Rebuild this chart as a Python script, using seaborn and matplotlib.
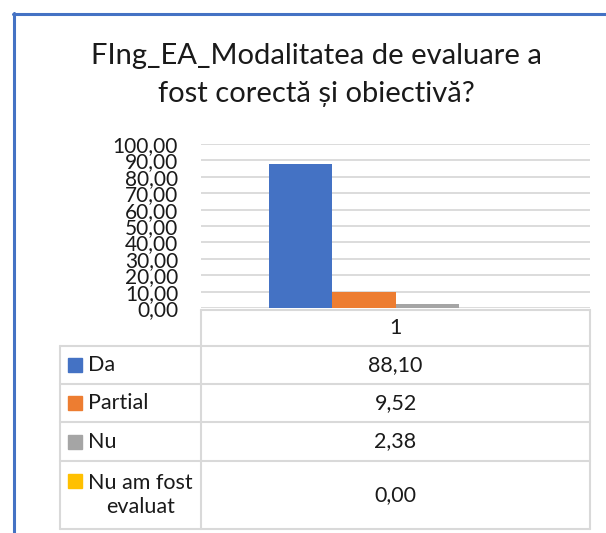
import matplotlib
matplotlib.use("Agg")
import matplotlib.pyplot as plt
from matplotlib.lines import Line2D
from matplotlib.patches import Rectangle
import seaborn as sns
import pandas as pd

# ---- data ----
title_lines = ["FIng_EA_Modalitatea de evaluare a", "fost corectă și obiectivă?"]
category = ["1"]
series = ["Da", "Partial", "Nu", "Nu am fost\nevaluat"]
values = [88.10, 9.52, 2.38, 0.00]
colors = ["#4472C4", "#ED7D31", "#A5A5A5", "#FFC000"]
yticks = [0, 10, 20, 30, 40, 50, 60, 70, 80, 90, 100]

df = pd.DataFrame({"cat": category * len(series), "series": series, "value": values})

W, H = 606, 533
sns.set_theme(style="white")
plt.rcParams["font.family"] = ["Lato", "DejaVu Sans"]
fig = plt.figure(figsize=(W / 100, H / 100), dpi=100)
fig.patch.set_facecolor("white")

def fx(x):
    return x / W
def fy(y):
    return 1 - y / H

TXT = "#1a1a1a"
TICK_FS = 15
TAB_FS = 15.5

# plot area in pixels
L, R, T, B = 201, 590, 144, 308
ax = fig.add_axes([fx(L), fy(B), fx(R) - fx(L), fy(T) - fy(B)])
sns.barplot(data=df, x="cat", y="value", hue="series", hue_order=series,
            palette=colors, width=0.648, ax=ax, legend=False, saturation=1,
            linewidth=0)
ax.set_ylim(0, 100)
ax.set_xlim(-0.5, 0.5)
ax.set_yticks(yticks)
ax.set_yticklabels([f"{v:.2f}".replace(".", ",") for v in yticks],
                   fontsize=TICK_FS, color=TXT)
ax.tick_params(axis="y", length=0, pad=16.5)
ax.set_xticks([])
ax.set_xlabel("")
ax.set_ylabel("")
for s in ax.spines.values():
    s.set_visible(False)
ax.yaxis.grid(True, color="#D9D9D9", linewidth=1.3)
ax.set_axisbelow(True)

# title (two lines)
for line, base in zip(title_lines, [64, 102]):
    fig.text(fx(316), fy(base), line, ha="center", va="baseline", fontsize=21,
             color=TXT)

# data table
gc = "#D9D9D9"
def hline(x0, x1, y):
    fig.add_artist(Line2D([fx(x0), fx(x1)], [fy(y), fy(y)], color=gc, lw=1.5,
                          transform=fig.transFigure))
def vline(x, y0, y1):
    fig.add_artist(Line2D([fx(x), fx(x)], [fy(y0), fy(y1)], color=gc, lw=1.5,
                          transform=fig.transFigure))

rows = [346, 384, 422, 461, 529]
hline(L, R, 310)
for y in rows:
    hline(60, R, y)
vline(L, 310, 529)
vline(R, 310, 529)
vline(60, 346, 529)

fig.text(fx((L + R) / 2), fy(328), category[0], ha="center", va="center",
         fontsize=TAB_FS, color=TXT)
for i, (name, v, c) in enumerate(zip(series, values, colors)):
    yc = (rows[i] + rows[i + 1]) / 2
    if "\n" in name:
        sq = yc - 14
        fig.text(fx(88), fy(yc), name, ha="left", va="center", fontsize=TAB_FS,
                 multialignment="center", linespacing=1.3, color=TXT)
    else:
        sq = yc
        fig.text(fx(88), fy(yc), name, ha="left", va="center", fontsize=TAB_FS,
                 color=TXT)
    fig.add_artist(Rectangle((fx(68), fy(sq + 7)), fx(14), 14 / H, color=c,
                             transform=fig.transFigure))
    fig.text(fx(395.5), fy(yc), f"{v:.2f}".replace(".", ","), ha="center",
             va="center", fontsize=TAB_FS, color=TXT)

# outer blue frame
fig.add_artist(Line2D([fx(14), fx(14)], [fy(13), fy(533)], color="#4472C4", lw=2.2,
                      transform=fig.transFigure))
fig.add_artist(Line2D([fx(13), fx(606)], [fy(14), fy(14)], color="#4472C4", lw=2.2,
                      transform=fig.transFigure))

fig.savefig("out.png", dpi=100)
